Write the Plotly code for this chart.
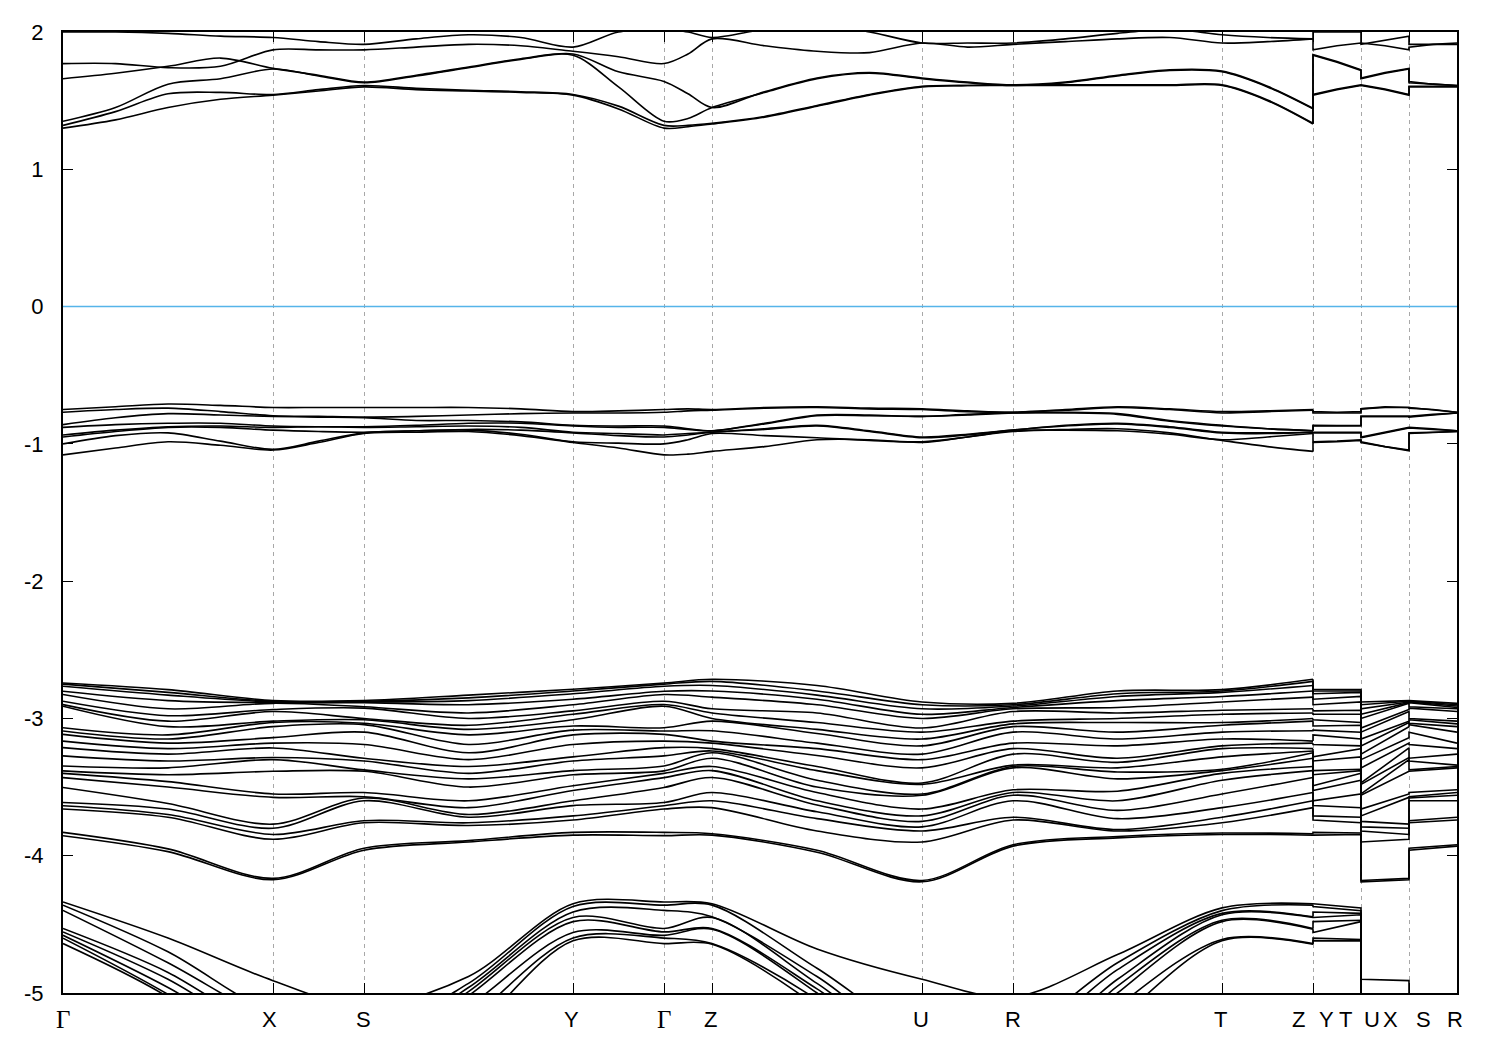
import plotly.graph_objects as go

# ---------------- k-path (distance units along the path) ----------------
K_NODES = [0, 210, 301, 510, 601, 649, 859, 950, 1159, 1250, 1298, 1346, 1394]
X_LABELS = ["Γ", "X", "S", "Y", "Γ", "Z", "U", "R", "T", "Z", "Y", "T", "U", "X", "S", "R"]
X_LABEL_POS = [0, 206, 300, 508, 601, 647, 858, 950, 1157, 1235, 1263, 1282, 1309, 1327, 1360, 1392]
Y_TICKS = [-5, -4, -3, -2, -1, 0, 1, 2]
Y_TICK_LABELS = ["-5", "-4", "-3", "-2", "-1", "0", "1", "2"]
FERMI = 0.0

# ---------------- conduction bands (fine sampling) ----------------
C1 = [1.30, 1.36, 1.45, 1.51, 1.54, 1.57, 1.60, 1.58, 1.57, 1.56, 1.54, 1.44, 1.30, 1.31, 1.33, 1.38, 1.46, 1.54, 1.60, 1.61, 1.61, 1.61, 1.61, 1.61, 1.61, 1.50, 1.33]
C2 = [1.32, 1.42, 1.55, 1.56, 1.545, 1.58, 1.61, 1.59, 1.575, 1.565, 1.545, 1.46, 1.32, 1.32, 1.335, 1.385, 1.465, 1.545, 1.605, 1.61, 1.615, 1.615, 1.615, 1.615, 1.615, 1.505, 1.335]
C3 = [1.35, 1.45, 1.62, 1.66, 1.73, 1.68, 1.63, 1.68, 1.74, 1.80, 1.83, 1.60, 1.35, 1.37, 1.45, 1.56, 1.66, 1.70, 1.66, 1.63, 1.61, 1.63, 1.68, 1.72, 1.71, 1.60, 1.44]
C4 = [1.66, 1.70, 1.75, 1.81, 1.735, 1.685, 1.635, 1.685, 1.745, 1.805, 1.84, 1.71, 1.64, 1.55, 1.45, 1.565, 1.665, 1.705, 1.665, 1.635, 1.615, 1.635, 1.685, 1.725, 1.715, 1.605, 1.445]
C5 = [1.77, 1.77, 1.74, 1.75, 1.87, 1.87, 1.87, 1.89, 1.91, 1.90, 1.86, 1.82, 1.77, 1.84, 1.95, 1.90, 1.86, 1.85, 1.92, 1.89, 1.91, 1.93, 1.95, 1.96, 1.92, 1.93, 1.95]
C6 = [2.0, 2.0, 1.99, 1.97, 1.96, 1.93, 1.91, 1.95, 1.98, 1.96, 1.89, 2.0, 2.02, 2.0, 1.96, 2.02, 2.05, 2.0, 1.92, 1.92, 1.92, 1.95, 1.99, 2.02, 1.98, 1.96, 1.95]
C1_TAIL = [1.54, 1.58, 1.61, 1.61, 1.58, 1.54, 1.60, 1.60, 1.60]
C2_TAIL = [1.545, 1.585, 1.615, 1.615, 1.585, 1.545, 1.605, 1.605, 1.605]
C3_TAIL = [1.83, 1.78, 1.72, 1.66, 1.70, 1.73, 1.63, 1.62, 1.61]
C4_TAIL = [1.835, 1.785, 1.725, 1.665, 1.705, 1.735, 1.64, 1.62, 1.61]
C5_TAIL = [1.87, 1.90, 1.92, 1.92, 1.90, 1.87, 1.89, 1.91, 1.92]
C6_TAIL = [2.0, 2.0, 2.0, 1.91, 1.94, 1.97, 1.91, 1.91, 1.91]

# ---------------- top valence bands (fine sampling) ----------------
V1 = [-1.08, -1.03, -0.985, -1.01, -1.045, -0.99, -0.925, -0.915, -0.91, -0.94, -0.99, -1.03, -1.08, -1.075, -1.055, -1.02, -0.97, -0.97, -0.99, -0.95, -0.91, -0.895, -0.89, -0.92, -0.975, -1.02, -1.055]
V2 = [-1.0, -0.94, -0.92, -0.98, -1.04, -0.98, -0.92, -0.905, -0.90, -0.93, -0.985, -0.995, -1.0, -0.97, -0.925, -0.94, -0.955, -0.975, -0.985, -0.95, -0.905, -0.90, -0.905, -0.93, -0.97, -0.95, -0.925]
V3 = [-0.95, -0.91, -0.88, -0.88, -0.90, -0.91, -0.915, -0.905, -0.895, -0.90, -0.92, -0.94, -0.95, -0.935, -0.915, -0.895, -0.87, -0.91, -0.955, -0.935, -0.90, -0.87, -0.855, -0.88, -0.92, -0.925, -0.915]
V4 = [-0.935, -0.90, -0.875, -0.87, -0.88, -0.875, -0.88, -0.875, -0.87, -0.88, -0.915, -0.925, -0.935, -0.925, -0.915, -0.89, -0.865, -0.905, -0.95, -0.93, -0.90, -0.865, -0.85, -0.875, -0.915, -0.92, -0.915]
V5 = [-0.88, -0.86, -0.85, -0.85, -0.87, -0.875, -0.875, -0.865, -0.85, -0.85, -0.87, -0.88, -0.88, -0.895, -0.905, -0.855, -0.795, -0.795, -0.80, -0.79, -0.775, -0.775, -0.785, -0.835, -0.87, -0.89, -0.905]
V6 = [-0.86, -0.81, -0.78, -0.79, -0.80, -0.805, -0.81, -0.83, -0.83, -0.84, -0.865, -0.87, -0.87, -0.89, -0.905, -0.85, -0.79, -0.79, -0.80, -0.785, -0.775, -0.77, -0.78, -0.83, -0.865, -0.89, -0.905]
V7 = [-0.77, -0.75, -0.74, -0.765, -0.795, -0.80, -0.805, -0.80, -0.79, -0.78, -0.775, -0.775, -0.77, -0.76, -0.755, -0.74, -0.735, -0.745, -0.75, -0.765, -0.77, -0.755, -0.735, -0.75, -0.775, -0.765, -0.755]
V8 = [-0.75, -0.73, -0.71, -0.72, -0.735, -0.735, -0.735, -0.735, -0.735, -0.745, -0.765, -0.76, -0.75, -0.745, -0.75, -0.735, -0.73, -0.74, -0.745, -0.76, -0.77, -0.75, -0.73, -0.745, -0.765, -0.76, -0.75]
V1_TAIL = [-0.99, -0.985, -0.975, -0.99, -1.02, -1.05, -0.925, -0.915, -0.91]
V2_TAIL = [-0.985, -0.98, -0.97, -0.985, -1.02, -1.045, -0.92, -0.915, -0.91]
V3_TAIL = [-0.92, -0.92, -0.92, -0.955, -0.92, -0.885, -0.885, -0.895, -0.905]
V4_TAIL = [-0.915, -0.916, -0.915, -0.95, -0.915, -0.88, -0.88, -0.89, -0.905]
V5_TAIL = [-0.87, -0.87, -0.87, -0.80, -0.80, -0.80, -0.805, -0.79, -0.775]
V6_TAIL = [-0.865, -0.866, -0.865, -0.80, -0.80, -0.80, -0.80, -0.785, -0.775]
V7_TAIL = [-0.775, -0.775, -0.775, -0.745, -0.73, -0.735, -0.74, -0.75, -0.77]
V8_TAIL = [-0.765, -0.77, -0.765, -0.745, -0.735, -0.735, -0.735, -0.75, -0.77]

# ---------------- middle valence manifold: sorted energies per k-sample ----------------
MID_G = [-3.854, -3.830, -3.660, -3.636, -3.612, -3.503, -3.431, -3.400, -3.382, -3.346, -3.273, -3.213, -3.165, -3.116, -3.092, -3.068, -2.911, -2.899, -2.875, -2.826, -2.802, -2.766, -2.750, -2.742]
MID_GX = [-3.97, -3.95, -3.72, -3.70, -3.66, -3.62, -3.50, -3.46, -3.41, -3.36, -3.31, -3.26, -3.22, -3.18, -3.15, -3.12, -3.06, -3.02, -2.98, -2.93, -2.87, -2.83, -2.81, -2.79]
MID_X = [-4.175, -4.165, -3.88, -3.845, -3.80, -3.77, -3.575, -3.55, -3.385, -3.30, -3.285, -3.215, -3.18, -3.14, -3.06, -3.03, -3.02, -2.95, -2.935, -2.89, -2.885, -2.88, -2.875, -2.87]
MID_S = [-3.96, -3.945, -3.76, -3.745, -3.60, -3.58, -3.57, -3.54, -3.385, -3.375, -3.31, -3.29, -3.19, -3.10, -3.045, -3.035, -3.01, -3.0, -2.925, -2.915, -2.885, -2.88, -2.875, -2.87]
MID_SY = [-3.90, -3.89, -3.78, -3.76, -3.72, -3.70, -3.65, -3.60, -3.50, -3.44, -3.40, -3.35, -3.30, -3.25, -3.19, -3.12, -3.08, -3.05, -3.0, -2.96, -2.90, -2.87, -2.85, -2.83]
MID_Y = [-3.85, -3.83, -3.74, -3.71, -3.635, -3.60, -3.525, -3.49, -3.41, -3.38, -3.31, -3.28, -3.19, -3.12, -3.085, -3.055, -3.01, -2.97, -2.945, -2.90, -2.86, -2.82, -2.80, -2.787]
MID_Z = [-3.85, -3.84, -3.65, -3.60, -3.54, -3.43, -3.38, -3.35, -3.29, -3.25, -3.237, -3.22, -3.18, -3.165, -3.09, -3.02, -3.0, -2.96, -2.93, -2.845, -2.80, -2.76, -2.73, -2.715]
MID_ZU = [-3.975, -3.96, -3.82, -3.73, -3.68, -3.63, -3.60, -3.54, -3.50, -3.45, -3.38, -3.35, -3.27, -3.22, -3.18, -3.11, -3.08, -3.03, -2.96, -2.90, -2.86, -2.83, -2.80, -2.76]
MID_U = [-4.19, -4.18, -3.90, -3.82, -3.79, -3.75, -3.71, -3.66, -3.56, -3.55, -3.48, -3.47, -3.36, -3.30, -3.26, -3.20, -3.15, -3.10, -3.07, -3.0, -2.97, -2.93, -2.90, -2.88]
MID_R = [-3.93, -3.92, -3.74, -3.72, -3.60, -3.56, -3.54, -3.52, -3.36, -3.35, -3.34, -3.26, -3.22, -3.18, -3.10, -3.06, -3.04, -3.02, -2.95, -2.93, -2.92, -2.91, -2.90, -2.89]
MID_RT = [-3.87, -3.86, -3.82, -3.81, -3.73, -3.67, -3.60, -3.53, -3.44, -3.39, -3.36, -3.32, -3.29, -3.20, -3.15, -3.10, -3.03, -3.00, -2.96, -2.92, -2.87, -2.84, -2.82, -2.80]
MID_T = [-3.845, -3.835, -3.76, -3.72, -3.65, -3.55, -3.45, -3.40, -3.38, -3.37, -3.28, -3.22, -3.20, -3.15, -3.10, -3.05, -3.03, -2.97, -2.94, -2.88, -2.84, -2.81, -2.80, -2.79]

# ---------------- lowest manifold: sorted energies per k-sample ----------------
BOT_G = [-4.64, -4.60, -4.58, -4.555, -4.53, -4.398, -4.36, -4.337]
BOT_GX = [-5.03, -5.01, -4.96, -4.90, -4.85, -4.78, -4.70, -4.60]
BOT_X = [-5.6, -5.5, -5.4, -5.35, -5.3, -5.2, -5.15, -4.91]
BOT_S = [-5.8, -5.7, -5.6, -5.55, -5.5, -5.4, -5.3, -5.1]
BOT_SY = [-5.3, -5.2, -5.1, -5.02, -4.99, -4.96, -4.93, -4.88]
BOT_Y = [-4.62, -4.60, -4.56, -4.48, -4.45, -4.41, -4.37, -4.35]
BOT_Z = [-4.645, -4.64, -4.535, -4.53, -4.45, -4.445, -4.36, -4.35]
BOT_ZU = [-5.1, -5.05, -5.0, -4.97, -4.93, -4.88, -4.82, -4.68]
BOT_U = [-5.8, -5.7, -5.6, -5.5, -5.45, -5.4, -5.3, -4.90]
BOT_R = [-5.9, -5.8, -5.7, -5.6, -5.5, -5.4, -5.3, -5.03]
BOT_RT = [-5.2, -5.1, -5.0, -4.95, -4.9, -4.83, -4.78, -4.72]
BOT_T = [-4.62, -4.61, -4.48, -4.47, -4.43, -4.42, -4.40, -4.38]

# ---------------- sampling grids built from the k-path nodes ----------------
FINE_DIVS = [4, 2, 4, 2, 2, 4, 2, 4, 2]
COARSE_DIVS = [2, 1, 2, 1, 1, 2, 1, 2, 1]


def path_grid(divs):
    xs = [K_NODES[0]]
    for i, d in enumerate(divs):
        a, b = K_NODES[i], K_NODES[i + 1]
        xs += [a + (b - a) * j / d for j in range(1, d + 1)]
    return xs


def tail_grid(div):
    xs = [K_NODES[9]]
    for a, b in [(9, 10), (10, 11), (11, 12)]:
        xa, xb = K_NODES[a], K_NODES[b]
        xs += [xa + (xb - xa) * j / div for j in range(0, div + 1)]
    return xs


K_FINE = path_grid(FINE_DIVS)
K_COARSE = path_grid(COARSE_DIVS)
K_TAIL_FINE = tail_grid(2)
K_TAIL_COARSE = tail_grid(1)

fine_bands = [(C1, C1_TAIL), (C2, C2_TAIL), (C3, C3_TAIL), (C4, C4_TAIL), (C5, C5_TAIL), (C6, C6_TAIL),
              (V1, V1_TAIL), (V2, V2_TAIL), (V3, V3_TAIL), (V4, V4_TAIL),
              (V5, V5_TAIL), (V6, V6_TAIL), (V7, V7_TAIL), (V8, V8_TAIL)]

coarse_bands = []
for main_cols, tail_cols in [
    ([MID_G, MID_GX, MID_X, MID_S, MID_SY, MID_Y, MID_G, MID_Z, MID_ZU, MID_U, MID_R, MID_RT, MID_T, MID_Z],
     [MID_Y, MID_T, MID_U, MID_X, MID_S, MID_R]),
    ([BOT_G, BOT_GX, BOT_X, BOT_S, BOT_SY, BOT_Y, BOT_G, BOT_Z, BOT_ZU, BOT_U, BOT_R, BOT_RT, BOT_T, BOT_Z],
     [BOT_Y, BOT_T, BOT_U, BOT_X, BOT_S, BOT_R]),
]:
    n = len(main_cols[0])
    assert all(len(c) == n for c in main_cols + tail_cols)
    for i in range(n):
        coarse_bands.append(([c[i] for c in main_cols], [c[i] for c in tail_cols]))

LINE = dict(color="black", width=1.6)
fig = go.Figure()


def add_band(kx, main, tkx, tail):
    assert len(kx) == len(main) and len(tkx) == len(tail) + 1
    fig.add_trace(go.Scatter(x=kx, y=main, mode="lines",
                             line=dict(LINE, shape="spline", smoothing=0.9),
                             hoverinfo="skip", showlegend=False))
    fig.add_trace(go.Scatter(x=tkx, y=[main[-1]] + tail, mode="lines",
                             line=dict(LINE, shape="linear"),
                             hoverinfo="skip", showlegend=False))


for main, tail in fine_bands:
    add_band(K_FINE, main, K_TAIL_FINE, tail)
for main, tail in coarse_bands:
    add_band(K_COARSE, main, K_TAIL_COARSE, tail)

fig.add_hline(y=FERMI, line=dict(color="#56b4e9", width=1.6), layer="above")

for lab, pos in zip(X_LABELS, X_LABEL_POS):
    fam = "Liberation Serif, Times New Roman, serif" if lab == "Γ" else "Liberation Sans, Arial, sans-serif"
    fig.add_annotation(x=pos, y=-0.028, xref="x", yref="paper", text=lab, showarrow=False,
                       xanchor="center", yanchor="middle",
                       font=dict(family=fam, size=25 if lab == "Γ" else 22, color="black"))

# page body adds an 8px margin; figure sized so the plot frame lands at 63..1457 x 28..993
fig.update_layout(
    width=1492, height=1042,
    margin=dict(l=55, r=43, t=20, b=57),
    paper_bgcolor="white", plot_bgcolor="white",
    showlegend=False, hovermode=False,
    font=dict(family="Liberation Sans, Arial, sans-serif", size=22, color="black"),
)
fig.update_xaxes(range=[K_NODES[0], K_NODES[-1]], tickvals=K_NODES, showticklabels=False,
                 ticks="inside", ticklen=10, tickwidth=1.2, tickcolor="black",
                 showline=True, linecolor="black", linewidth=2, mirror="ticks",
                 showgrid=True, gridcolor="#a8a8a8", gridwidth=1, griddash="4px,4px",
                 zeroline=False)
fig.update_yaxes(range=[-5, 2], tickvals=Y_TICKS, ticktext=Y_TICK_LABELS,
                 ticks="inside", ticklen=10, tickwidth=1.2, tickcolor="black",
                 showline=True, linecolor="black", linewidth=2, mirror="ticks",
                 showgrid=False, zeroline=False, ticklabelstandoff=13,
                 tickfont=dict(family="Liberation Sans, Arial, sans-serif", size=22, color="black"))

fig.write_html("out.html")
